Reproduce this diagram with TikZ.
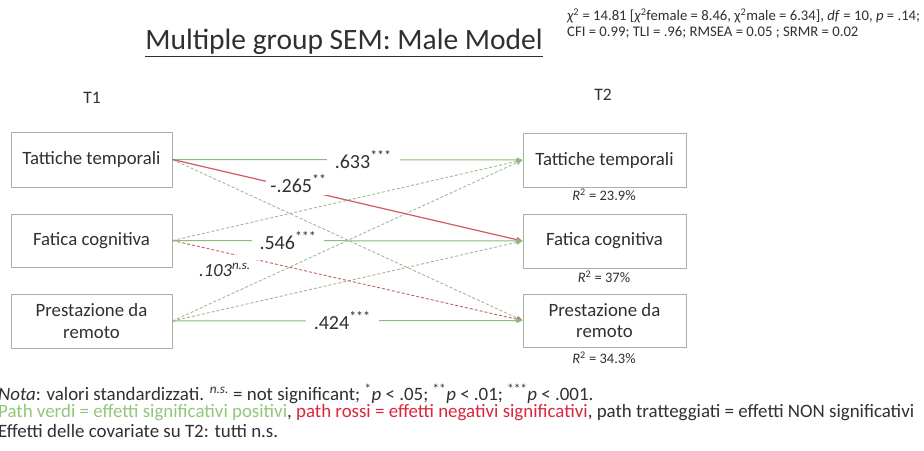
\documentclass[tikz,border=0pt]{standalone}
\usepackage{fontspec}
\setmainfont{Carlito}
\usetikzlibrary{arrows.meta}
\definecolor{boxc}{HTML}{A7B3A2}
\definecolor{gsol}{HTML}{8CBB7A}
\definecolor{gdash}{HTML}{A3B898}
\definecolor{rsol}{HTML}{D05A64}
\definecolor{rdash}{HTML}{CC5E60}
\definecolor{gtext}{HTML}{92C77A}
\definecolor{rtext}{HTML}{D9263A}
\definecolor{txt}{HTML}{303030}
\begin{document}
\begin{tikzpicture}[x=1pt,y=-1pt,
  var/.style={draw=boxc, line width=1pt, minimum width=161pt, minimum height=54pt,
    align=center, font=\fontsize{18.8}{21.5}\selectfont, text=txt, inner sep=0pt},
  tip/.style={-{Triangle[length=6pt,width=5pt]}},
  gpath/.style={tip, draw=gsol, line width=1pt},
  rpath/.style={tip, draw=rsol, line width=1.2pt},
  gdpath/.style={tip, draw=gdash, line width=0.9pt, dash pattern=on 3pt off 2pt},
  rdpath/.style={tip, draw=rdash, line width=0.9pt, dash pattern=on 3pt off 2pt},
  coef/.style={fill=white, text=txt, font=\fontsize{20}{22}\selectfont, inner xsep=8pt, inner ysep=2pt},
  gapnode/.style={fill=white, inner sep=0pt, minimum width=28pt, minimum height=5pt},
  rsq/.style={text=txt, font=\fontsize{14.5}{16}\selectfont, inner sep=0pt},
  hdr/.style={text=txt, font=\fontsize{17.5}{19}\selectfont, inner sep=0pt},
  note/.style={anchor=west, text=txt, font=\fontsize{18.9}{20}\selectfont, inner sep=0pt},
  stat/.style={anchor=west, text=txt, font=\fontsize{14.7}{16}\selectfont, inner sep=0pt}]
\useasboundingbox[fill=white] (0,0) rectangle (924,450);

% title and fit statistics
\node[text=txt, font=\fontsize{29.5}{32}\selectfont, inner sep=0pt] (title) at (344,43)
  {\underline{Multiple group SEM: Male Model}};
\node[stat] (stat1) at (567,16) {{\itshape χ}\textsuperscript{2} = 14.81 [{\itshape χ}\textsuperscript{2}female = 8.46, χ\textsuperscript{2}male = 6.34], \textit{df} = 10, \textit{p} = .14;};
\node[stat] (stat2) at (567,32) {CFI = 0.99; TLI = .96; RMSEA = 0.05 ; SRMR = 0.02};

\node[hdr] (t1) at (92,98) {T1};
\node[hdr] (t2) at (603,95) {T2};

% variables
\node[var, minimum height=55pt] (l1) at (91.5,159.5) {Tattiche temporali};
\node[var, minimum height=53pt] (l2) at (91.5,240.5) {Fatica cognitiva};
\node[var] (l3) at (91.5,321) {Prestazione da\\remoto};
\node[var, minimum width=163pt] (r1) at (604.5,160) {Tattiche temporali};
\node[var, minimum width=163pt] (r2) at (604.5,241) {Fatica cognitiva};
\node[var, minimum width=163pt, minimum height=53pt] (r3) at (604.5,320.5) {Prestazione da\\remoto};

\node[rsq] (q1) at (604,195) {\textit{R}\textsuperscript{2} = 23.9\%};
\node[rsq] (q2) at (604,277) {\textit{R}\textsuperscript{2} = 37\%};
\node[rsq] (q3) at (604,358) {\textit{R}\textsuperscript{2} = 34.3\%};

% non significant paths
\draw[gdpath] (l1.east) -- (r3.west);
\draw[gdpath] (l2.east) -- (r1.west);
\draw[gdpath] (l3.east) -- (r1.west);
\draw[gdpath] (l3.east) -- (r2.west);
\draw[rdpath] (l2.east) -- node[gapnode, pos=0.21] (gap103) {} (r3.west);
\node[text=txt, font=\fontsize{18.5}{20}\selectfont\itshape, inner sep=0pt] (c103) at (225,270)
  {.103\textsuperscript{n.s.}};

% significant paths
\draw[gpath] (l1.east) -- node[coef, pos=0.545] (c633) {.633\textsuperscript{***}} (r1.west);
\draw[rpath] (l1.east) -- node[coef, pos=0.36, yshift=5pt, inner xsep=4pt] (c265) {-.265\textsuperscript{**}} (r2.west);
\draw[gpath] (l2.east) -- node[coef, pos=0.33] (c546) {.546\textsuperscript{***}} (r2.west);
\draw[gpath] (l3.east) -- node[coef, pos=0.485] (c424) {.424\textsuperscript{***}} (r3.west);

% notes
\node[note] (n1) at (-2,394) {\textit{Nota}: valori standardizzati. \textsuperscript{\textit{n.s.}} = not significant; \textsuperscript{*}\textit{p} < .05; \textsuperscript{**}\textit{p} < .01; \textsuperscript{***}\textit{p} < .001.};
\node[note] (n2) at (-2,412.5) {\textcolor{gtext}{Path verdi = effetti significativi positivi}, \textcolor{rtext}{path rossi = effetti negativi significativi}, path tratteggiati = effetti NON significativi};
\node[note] (n3) at (-2,431) {Effetti delle covariate su T2: tutti n.s.};
\end{tikzpicture}
\end{document}
